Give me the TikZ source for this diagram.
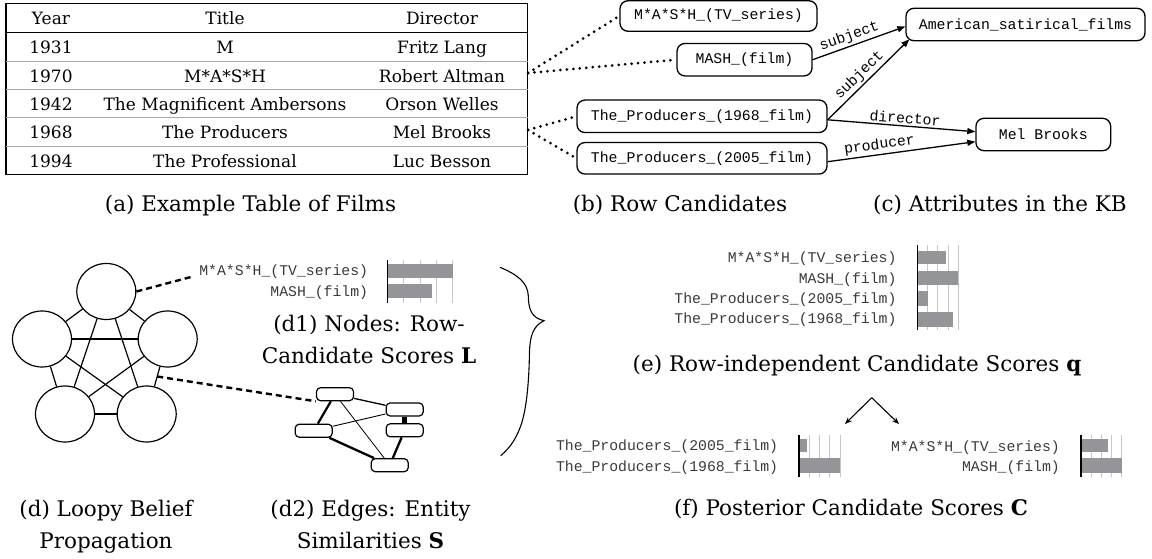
\documentclass[tikz,border=0pt]{standalone}
\usepackage{fontspec}
\setmainfont{DejaVu Serif}
\setmonofont{Liberation Mono}
\usetikzlibrary{arrows.meta,shapes.geometric,calc}

\definecolor{bargray}{HTML}{939598}
\definecolor{gridgray}{HTML}{C6C6C6}
\definecolor{rulegray}{HTML}{A8A8A8}
\definecolor{labelgray}{HTML}{3A3A3A}

\tikzset{
  figcap/.style={font=\fontsize{21.5}{32.5}\selectfont, align=center, inner sep=0pt, anchor=base},
  cell/.style={font=\fontsize{17}{20}\selectfont, inner sep=0pt, anchor=base},
  kbnode/.style={draw, line width=1.3pt, rounded corners=8pt, font=\fontsize{14.8}{16}\selectfont\ttfamily, inner sep=0pt},
  kblabel/.style={font=\fontsize{14.8}{16}\selectfont\ttfamily, sloped, above, inner sep=2pt},
  kbarrow/.style={line width=1.3pt, -{Triangle[length=8pt,width=6pt]}},
  linkdots/.style={line width=3pt, line cap=round, dash pattern=on 0pt off 6.5pt},
  zoomdash/.style={line width=2.4pt, dash pattern=on 6pt off 4pt},
  bpnode/.style={ellipse, draw, line width=1.2pt, minimum width=59pt, minimum height=56pt, inner sep=0pt},
  bpedge/.style={line width=1.2pt},
  simbox/.style={draw, rounded corners=4pt, line width=1.2pt, minimum width=37pt, minimum height=13pt, inner sep=0pt, fill=white},
  barlabel/.style={font=\fontsize{14.8}{16}\selectfont\ttfamily, text=labelgray, anchor=east, inner sep=0pt, text height=11pt, text depth=1pt},
  scorebar/.style={fill=bargray},
  gridline/.style={draw=gridgray, line width=1pt},
  axisline/.style={line width=1.5pt},
}

\begin{document}
\begin{tikzpicture}[x=1pt,y=-1pt]
\useasboundingbox (0,0) rectangle (1152,559);

% ---------- (a) table of films ----------
\draw[line width=1.2pt] (6,3.3) rectangle (527.7,174.3);
\draw[line width=1.4pt] (6,32.3) -- (527.7,32.3);
\foreach \yy in {61,89.3,117.7,146}
  \draw[rulegray, line width=0.9pt] (6,\yy) -- (527.7,\yy);

\node[cell] (hyear) at (51,24.8) {Year};
\node[cell] (htitle) at (225,24.8) {Title};
\node[cell] (hdir) at (442,24.8) {Director};
\foreach \yr/\ti/\di [count=\i] in {
    1931/M/Fritz Lang,
    1970/M*A*S*H/Robert Altman,
    1942/The Magnificent Ambersons/Orson Welles,
    1968/The Producers/Mel Brooks,
    1994/The Professional/Luc Besson}{
  \pgfmathsetmacro{\by}{53.7+28.35*(\i-1)}
  \node[cell] (yr\i) at (51,\by) {\yr};
  \node[cell] (ti\i) at (225,\by) {\ti};
  \node[cell] (di\i) at (442,\by) {\di};
}
\coordinate (rowmash) at (528,73);
\coordinate (rowprod) at (528,130);

% ---------- (b) row candidates, (c) KB attributes ----------
\node[kbnode, minimum width=197pt, minimum height=30.5pt] (tvs) at (718.5,16) {M*A*S*H\_(TV\_series)};
\node[kbnode, minimum width=135pt, minimum height=32.5pt] (mash) at (744.5,59.7) {MASH\_(film)};
\node[kbnode, minimum width=250pt, minimum height=32.5pt] (p68) at (702,116.3) {The\_Producers\_(1968\_film)};
\node[kbnode, minimum width=250pt, minimum height=31.5pt] (p05) at (702,158.3) {The\_Producers\_(2005\_film)};
\node[kbnode, minimum width=239pt, minimum height=32.4pt] (sat) at (1025.5,24.5) {American\_satirical\_films};
\node[kbnode, minimum width=134.7pt, minimum height=32.4pt] (mel) at (1043.3,134.5) {Mel Brooks};

\draw[linkdots] (rowmash) -- (tvs.west);
\draw[linkdots] (rowmash) -- (mash.west);
\draw[linkdots] (rowprod) -- (p68.west);
\draw[linkdots] (rowprod) -- (p05.west);

\draw[kbarrow] (mash.east) -- node[kblabel, pos=0.43] {subject} ($(sat.west)+(0,2)$);
\draw[kbarrow] ($(p68.east)+(0,3.5)$) -- node[kblabel, pos=0.47] {subject} ($(sat.south west)+(4,-2)$);
\draw[kbarrow] ($(p68.east)+(0,3.5)$) -- node[kblabel, pos=0.52] {director} ($(mel.west)+(0,-2.8)$);
\draw[kbarrow] ($(p05.east)+(0,3.4)$) -- node[kblabel, pos=0.36] {producer} ($(mel.west)+(0,7.2)$);

\node[figcap] (capa) at (250.5,211.5) {(a) Example Table of Films};
\node[figcap] (capb) at (680,211.5) {(b) Row Candidates};
\node[figcap, anchor=base west] (capc) at (873,211.5) {(c) Attributes in the KB};

% ---------- (d) loopy belief propagation ----------
\node[bpnode] (cT) at (106.3,291.5) {};
\node[bpnode] (cL) at (42,339) {};
\node[bpnode] (cR) at (167.7,339) {};
\node[bpnode] (cBL) at (65,414) {};
\node[bpnode] (cBR) at (146.7,414) {};
\foreach \a/\b in {cT/cL, cT/cR, cL/cBL, cR/cBR, cBL/cBR, cT/cBL, cT/cBR, cL/cR, cL/cBR, cR/cBL}
  \draw[bpedge] (\a) -- (\b);

% (d1) node scores
\node[barlabel] (l1a) at (368.3,270) {M*A*S*H\_(TV\_series)};
\node[barlabel] (l1b) at (368.3,291) {MASH\_(film)};
\foreach \k in {1,...,4} \draw[gridline] (387.7+16.25*\k,260) -- (387.7+16.25*\k,302.7);
\fill[scorebar] (387.7,263.5) rectangle (452.7,278);
\fill[scorebar] (387.7,283.5) rectangle (432.3,298);
\draw[axisline] (387.7,260) -- (387.7,302.7);
\coordinate (tvtip) at (192,276.7);
\draw[zoomdash] (cT.east) -- (tvtip);
\node[figcap] (capd1) at (369,363.5) {(d1) Nodes: Row-\\Candidate Scores \textbf{L}};

% (d2) entity similarities
\node[simbox] (sA) at (335,394.2) {};
\node[simbox] (sB) at (404.7,409.5) {};
\node[simbox] (sC) at (404.7,430.3) {};
\node[simbox] (sD) at (313.7,430.7) {};
\node[simbox] (sE) at (389.7,465.2) {};
\draw[line width=1.3pt] (sA) -- (sB);
\draw[line width=2.2pt] (sA) -- (sD);
\draw[line width=0.8pt] (sA) -- (sE);
\draw[line width=0.9pt] (sD) -- (sB);
\draw[line width=2.3pt] (sD) -- (sE);
\draw[line width=4.5pt] (sB) -- (sC);
\draw[line width=2.3pt] (sC) -- (sE);
\coordinate (bpedgemid) at ($(cR)!0.5!(cBR)$);
\draw[zoomdash] (bpedgemid) -- (sA.south west);

\node[figcap] (capd) at (106,548.5) {(d) Loopy Belief\\Propagation};
\node[figcap] (capd2) at (370.5,548.5) {(d2) Edges: Entity\\Similarities \textbf{S}};

% brace collecting (d1) and (d2)
\draw[line width=1.1pt] (500,267.3)
  .. controls (516,274) and (528,282) .. (528.3,296)
  .. controls (528.5,310) and (532,318) .. (544,320.7)
  .. controls (533,326) and (530,336) .. (529.5,352)
  .. controls (529,380) and (527,405) .. (522,422)
  .. controls (517,438) and (510,448) .. (500.7,455.7);

% ---------- (e) row-independent candidate scores ----------
\node[barlabel] (eq1) at (896.7,257.7) {M*A*S*H\_(TV\_series)};
\node[barlabel] (eq2) at (896.7,278) {MASH\_(film)};
\node[barlabel] (eq3) at (896.7,298.3) {The\_Producers\_(2005\_film)};
\node[barlabel] (eq4) at (896.7,318.8) {The\_Producers\_(1968\_film)};
\foreach \k in {1,...,4} \draw[gridline] (917.3+10.25*\k,245) -- (917.3+10.25*\k,330);
\fill[scorebar] (917.3,251) rectangle (945.7,264.3);
\fill[scorebar] (917.3,271) rectangle (958.3,285);
\fill[scorebar] (917.3,291) rectangle (927.7,305.7);
\fill[scorebar] (917.3,311.5) rectangle (952.7,326.5);
\draw[axisline] (917.3,245) -- (917.3,330);
\node[figcap] (cape) at (857,371) {(e) Row-independent Candidate Scores \textbf{q}};

% split into per-group posteriors
\coordinate (apex) at (871.7,397.7);
\coordinate (splitl) at (845,424);
\coordinate (splitr) at (899,424);
\draw[line width=1.1pt, -{Stealth[length=7pt,width=5.5pt]}] (apex) -- (splitl);
\draw[line width=1.1pt, -{Stealth[length=7pt,width=5.5pt]}] (apex) -- (splitr);

% ---------- (f) posterior candidate scores ----------
\node[barlabel] (fl1) at (778.3,445.7) {The\_Producers\_(2005\_film)};
\node[barlabel] (fl2) at (778.3,466.5) {The\_Producers\_(1968\_film)};
\foreach \k in {1,...,4} \draw[gridline] (799+10.25*\k,435) -- (799+10.25*\k,476.7);
\fill[scorebar] (799,439.3) rectangle (806.7,452.3);
\fill[scorebar] (799,458.3) rectangle (840,472.7);
\draw[axisline] (799,435) -- (799,476.7);

\node[barlabel] (fr1) at (1060,446) {M*A*S*H\_(TV\_series)};
\node[barlabel] (fr2) at (1060,466.5) {MASH\_(film)};
\foreach \k in {1,...,4} \draw[gridline] (1081+10.2*\k,435) -- (1081+10.2*\k,476.7);
\fill[scorebar] (1081,439.3) rectangle (1107.7,452.3);
\fill[scorebar] (1081,458.3) rectangle (1121.7,472.7);
\draw[axisline] (1081,435) -- (1081,476.7);
\node[figcap] (capf) at (851,515) {(f) Posterior Candidate Scores \textbf{C}};
\end{tikzpicture}
\end{document}
